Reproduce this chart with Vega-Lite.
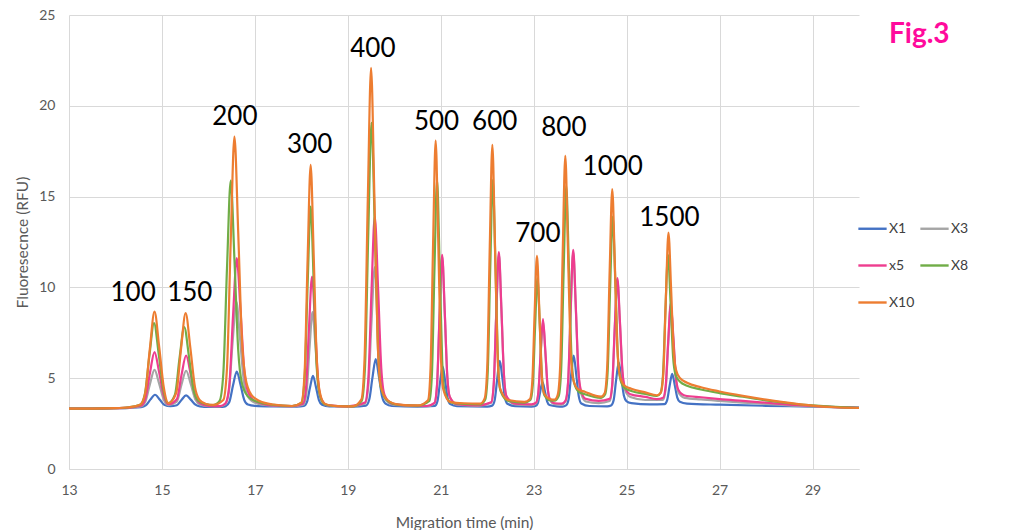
{
  "$schema": "https://vega.github.io/schema/vega-lite/v6.json",
  "autosize": "none",
  "width": 790,
  "height": 454,
  "padding": {"left": 69, "top": 15, "right": 165, "bottom": 61},
  "background": "white",
  "title": {
    "text": "Fig.3",
    "anchor": "start",
    "frame": "group",
    "orient": "top",
    "offset": 0,
    "dx": 820,
    "dy": 63,
    "baseline": "alphabetic",
    "font": "Lato",
    "fontSize": 28,
    "fontWeight": "bold",
    "color": "#ff0a9c"
  },
  "datasets": {
    "curves": [
      {"s":"X1","t":13,"v":3.33},{"s":"X1","t":13.5,"v":3.33},{"s":"X1","t":14,"v":3.35},{"s":"X1","t":14.3,"v":3.37},
      {"s":"X1","t":14.55,"v":3.41},{"s":"X1","t":14.65,"v":3.5},{"s":"X1","t":14.75,"v":3.82},{"s":"X1","t":14.85,"v":4.09},{"s":"X1","t":14.95,"v":3.83},{"s":"X1","t":15.05,"v":3.54},{"s":"X1","t":15.18,"v":3.46},
      {"s":"X1","t":15.32,"v":3.51},{"s":"X1","t":15.42,"v":3.8},{"s":"X1","t":15.52,"v":4.05},{"s":"X1","t":15.62,"v":3.82},{"s":"X1","t":15.72,"v":3.55},{"s":"X1","t":15.82,"v":3.45},{"s":"X1","t":16.0,"v":3.42},{"s":"X1","t":16.3,"v":3.42},
      {"s":"X1","t":16.37,"v":3.46},{"s":"X1","t":16.45,"v":3.69},{"s":"X1","t":16.53,"v":4.61},{"s":"X1","t":16.61,"v":5.37},{"s":"X1","t":16.69,"v":4.65},{"s":"X1","t":16.77,"v":3.81},{"s":"X1","t":16.85,"v":3.55},{"s":"X1","t":17.0,"v":3.48},{"s":"X1","t":17.4,"v":3.45},{"s":"X1","t":17.9,"v":3.44},
      {"s":"X1","t":18.055,"v":3.47},{"s":"X1","t":18.12,"v":3.68},{"s":"X1","t":18.185,"v":4.47},{"s":"X1","t":18.25,"v":5.13},{"s":"X1","t":18.315,"v":4.5},{"s":"X1","t":18.38,"v":3.78},{"s":"X1","t":18.445,"v":3.54},{"s":"X1","t":18.6,"v":3.45},{"s":"X1","t":19.1,"v":3.44},
      {"s":"X1","t":19.39,"v":3.49},{"s":"X1","t":19.46,"v":3.81},{"s":"X1","t":19.53,"v":5.03},{"s":"X1","t":19.6,"v":6.05},{"s":"X1","t":19.67,"v":5.08},{"s":"X1","t":19.74,"v":3.96},{"s":"X1","t":19.81,"v":3.6},{"s":"X1","t":19.95,"v":3.47},{"s":"X1","t":20.5,"v":3.44},
      {"s":"X1","t":20.875,"v":3.48},{"s":"X1","t":20.93,"v":3.75},{"s":"X1","t":20.985,"v":4.79},{"s":"X1","t":21.04,"v":5.65},{"s":"X1","t":21.095,"v":4.83},{"s":"X1","t":21.15,"v":3.88},{"s":"X1","t":21.205,"v":3.57},{"s":"X1","t":21.35,"v":3.46},{"s":"X1","t":22.0,"v":3.44},
      {"s":"X1","t":22.105,"v":3.49},{"s":"X1","t":22.16,"v":3.79},{"s":"X1","t":22.215,"v":4.98},{"s":"X1","t":22.27,"v":5.96},{"s":"X1","t":22.325,"v":5.03},{"s":"X1","t":22.38,"v":3.94},{"s":"X1","t":22.435,"v":3.59},{"s":"X1","t":22.6,"v":3.46},{"s":"X1","t":22.95,"v":3.44},
      {"s":"X1","t":23.04,"v":3.47},{"s":"X1","t":23.09,"v":3.63},{"s":"X1","t":23.14,"v":4.26},{"s":"X1","t":23.19,"v":4.79},{"s":"X1","t":23.24,"v":4.29},{"s":"X1","t":23.29,"v":3.71},{"s":"X1","t":23.34,"v":3.52},{"s":"X1","t":23.5,"v":3.45},{"s":"X1","t":23.62,"v":3.44},
      {"s":"X1","t":23.695,"v":3.5},{"s":"X1","t":23.75,"v":3.83},{"s":"X1","t":23.805,"v":5.15},{"s":"X1","t":23.86,"v":6.25},{"s":"X1","t":23.915,"v":5.21},{"s":"X1","t":23.97,"v":4.0},{"s":"X1","t":24.025,"v":3.61},{"s":"X1","t":24.2,"v":3.47},{"s":"X1","t":24.58,"v":3.45},
      {"s":"X1","t":24.665,"v":3.5},{"s":"X1","t":24.72,"v":3.79},{"s":"X1","t":24.775,"v":4.93},{"s":"X1","t":24.83,"v":5.87},{"s":"X1","t":24.885,"v":5.03},{"s":"X1","t":24.94,"v":4.05},{"s":"X1","t":24.995,"v":3.74},{"s":"X1","t":25.1,"v":3.63},{"s":"X1","t":25.5,"v":3.56},
      {"s":"X1","t":25.815,"v":3.57},{"s":"X1","t":25.87,"v":3.78},{"s":"X1","t":25.925,"v":4.58},{"s":"X1","t":25.98,"v":5.24},{"s":"X1","t":26.035,"v":4.63},{"s":"X1","t":26.09,"v":3.93},{"s":"X1","t":26.145,"v":3.7},{"s":"X1","t":26.3,"v":3.6},{"s":"X1","t":27.0,"v":3.54},{"s":"X1","t":28.0,"v":3.48},{"s":"X1","t":29.0,"v":3.44},{"s":"X1","t":30.0,"v":3.38},

      {"s":"X3","t":13,"v":3.33},{"s":"X3","t":13.5,"v":3.33},{"s":"X3","t":14,"v":3.35},{"s":"X3","t":14.3,"v":3.37},
      {"s":"X3","t":14.54,"v":3.44},{"s":"X3","t":14.64,"v":3.69},{"s":"X3","t":14.74,"v":4.66},{"s":"X3","t":14.84,"v":5.46},{"s":"X3","t":14.94,"v":4.7},{"s":"X3","t":15.04,"v":3.81},{"s":"X3","t":15.14,"v":3.52},
      {"s":"X3","t":15.32,"v":3.71},{"s":"X3","t":15.42,"v":4.64},{"s":"X3","t":15.52,"v":5.41},{"s":"X3","t":15.62,"v":4.68},{"s":"X3","t":15.72,"v":3.83},{"s":"X3","t":15.82,"v":3.55},{"s":"X3","t":16.0,"v":3.46},{"s":"X3","t":16.25,"v":3.45},
      {"s":"X3","t":16.36,"v":3.57},{"s":"X3","t":16.44,"v":4.26},{"s":"X3","t":16.52,"v":6.97},{"s":"X3","t":16.6,"v":9.22},{"s":"X3","t":16.68,"v":7.2},{"s":"X3","t":16.76,"v":4.89},{"s":"X3","t":16.84,"v":4.03},{"s":"X3","t":17.0,"v":3.65},{"s":"X3","t":17.3,"v":3.5},{"s":"X3","t":17.8,"v":3.45},
      {"s":"X3","t":18.045,"v":3.55},{"s":"X3","t":18.11,"v":4.18},{"s":"X3","t":18.175,"v":6.62},{"s":"X3","t":18.24,"v":8.64},{"s":"X3","t":18.305,"v":6.72},{"s":"X3","t":18.37,"v":4.49},{"s":"X3","t":18.435,"v":3.76},{"s":"X3","t":18.56,"v":3.5},{"s":"X3","t":19.0,"v":3.45},
      {"s":"X3","t":19.37,"v":3.6},{"s":"X3","t":19.44,"v":4.52},{"s":"X3","t":19.51,"v":8.13},{"s":"X3","t":19.58,"v":11.12},{"s":"X3","t":19.65,"v":8.28},{"s":"X3","t":19.72,"v":4.98},{"s":"X3","t":19.79,"v":3.91},{"s":"X3","t":19.95,"v":3.55},{"s":"X3","t":20.3,"v":3.48},{"s":"X3","t":20.7,"v":3.46},
      {"s":"X3","t":20.865,"v":3.62},{"s":"X3","t":20.92,"v":4.61},{"s":"X3","t":20.975,"v":8.49},{"s":"X3","t":21.03,"v":11.7},{"s":"X3","t":21.085,"v":8.65},{"s":"X3","t":21.14,"v":5.11},{"s":"X3","t":21.195,"v":3.95},{"s":"X3","t":21.35,"v":3.54},{"s":"X3","t":21.8,"v":3.48},
      {"s":"X3","t":22.085,"v":3.65},{"s":"X3","t":22.14,"v":4.65},{"s":"X3","t":22.195,"v":8.59},{"s":"X3","t":22.25,"v":11.85},{"s":"X3","t":22.305,"v":8.75},{"s":"X3","t":22.36,"v":5.15},{"s":"X3","t":22.415,"v":3.98},{"s":"X3","t":22.6,"v":3.56},{"s":"X3","t":22.95,"v":3.52},
      {"s":"X3","t":23.05,"v":3.61},{"s":"X3","t":23.1,"v":4.17},{"s":"X3","t":23.15,"v":6.34},{"s":"X3","t":23.2,"v":8.15},{"s":"X3","t":23.25,"v":6.44},{"s":"X3","t":23.3,"v":4.45},{"s":"X3","t":23.35,"v":3.8},{"s":"X3","t":23.45,"v":3.57},{"s":"X3","t":23.6,"v":3.55},
      {"s":"X3","t":23.685,"v":3.72},{"s":"X3","t":23.74,"v":4.73},{"s":"X3","t":23.795,"v":8.67},{"s":"X3","t":23.85,"v":11.95},{"s":"X3","t":23.905,"v":8.9},{"s":"X3","t":23.96,"v":5.37},{"s":"X3","t":24.015,"v":4.21},{"s":"X3","t":24.12,"v":3.72},{"s":"X3","t":24.4,"v":3.63},
      {"s":"X3","t":24.635,"v":3.74},{"s":"X3","t":24.69,"v":4.55},{"s":"X3","t":24.745,"v":7.75},{"s":"X3","t":24.8,"v":10.4},{"s":"X3","t":24.855,"v":8.01},{"s":"X3","t":24.91,"v":5.24},{"s":"X3","t":24.965,"v":4.34},{"s":"X3","t":25.08,"v":3.96},{"s":"X3","t":25.4,"v":3.8},
      {"s":"X3","t":25.785,"v":3.81},{"s":"X3","t":25.84,"v":4.44},{"s":"X3","t":25.895,"v":6.93},{"s":"X3","t":25.95,"v":9.0},{"s":"X3","t":26.005,"v":7.12},{"s":"X3","t":26.06,"v":4.94},{"s":"X3","t":26.115,"v":4.22},{"s":"X3","t":26.25,"v":3.92},{"s":"X3","t":26.6,"v":3.83},{"s":"X3","t":27.0,"v":3.75},{"s":"X3","t":27.5,"v":3.66},{"s":"X3","t":28.0,"v":3.58},{"s":"X3","t":28.5,"v":3.5},{"s":"X3","t":29.0,"v":3.45},{"s":"X3","t":29.5,"v":3.4},{"s":"X3","t":30.0,"v":3.37},

      {"s":"x5","t":13,"v":3.33},{"s":"x5","t":13.5,"v":3.33},{"s":"x5","t":14,"v":3.35},{"s":"x5","t":14.3,"v":3.38},
      {"s":"x5","t":14.54,"v":3.48},{"s":"x5","t":14.64,"v":3.84},{"s":"x5","t":14.74,"v":5.26},{"s":"x5","t":14.84,"v":6.44},{"s":"x5","t":14.94,"v":5.32},{"s":"x5","t":15.04,"v":4.02},{"s":"x5","t":15.14,"v":3.57},
      {"s":"x5","t":15.32,"v":3.84},{"s":"x5","t":15.42,"v":5.16},{"s":"x5","t":15.52,"v":6.25},{"s":"x5","t":15.62,"v":5.21},{"s":"x5","t":15.72,"v":4.01},{"s":"x5","t":15.82,"v":3.62},{"s":"x5","t":16.0,"v":3.48},{"s":"x5","t":16.25,"v":3.46},
      {"s":"x5","t":16.37,"v":3.62},{"s":"x5","t":16.45,"v":4.6},{"s":"x5","t":16.53,"v":8.43},{"s":"x5","t":16.61,"v":11.61},{"s":"x5","t":16.69,"v":8.76},{"s":"x5","t":16.77,"v":5.5},{"s":"x5","t":16.85,"v":4.28},{"s":"x5","t":17.0,"v":3.75},{"s":"x5","t":17.3,"v":3.52},{"s":"x5","t":17.8,"v":3.46},
      {"s":"x5","t":18.035,"v":3.59},{"s":"x5","t":18.1,"v":4.45},{"s":"x5","t":18.165,"v":7.81},{"s":"x5","t":18.23,"v":10.6},{"s":"x5","t":18.295,"v":7.95},{"s":"x5","t":18.36,"v":4.88},{"s":"x5","t":18.425,"v":3.88},{"s":"x5","t":18.55,"v":3.52},{"s":"x5","t":19.0,"v":3.45},
      {"s":"x5","t":19.37,"v":3.66},{"s":"x5","t":19.44,"v":4.91},{"s":"x5","t":19.51,"v":9.82},{"s":"x5","t":19.58,"v":13.9},{"s":"x5","t":19.65,"v":10.03},{"s":"x5","t":19.72,"v":5.54},{"s":"x5","t":19.79,"v":4.08},{"s":"x5","t":19.95,"v":3.6},{"s":"x5","t":20.3,"v":3.5},{"s":"x5","t":20.7,"v":3.47},
      {"s":"x5","t":20.865,"v":3.64},{"s":"x5","t":20.92,"v":4.63},{"s":"x5","t":20.975,"v":8.55},{"s":"x5","t":21.03,"v":11.79},{"s":"x5","t":21.085,"v":8.71},{"s":"x5","t":21.14,"v":5.13},{"s":"x5","t":21.195,"v":3.97},{"s":"x5","t":21.35,"v":3.57},{"s":"x5","t":21.8,"v":3.5},
      {"s":"x5","t":22.085,"v":3.67},{"s":"x5","t":22.14,"v":4.68},{"s":"x5","t":22.195,"v":8.65},{"s":"x5","t":22.25,"v":11.94},{"s":"x5","t":22.305,"v":8.82},{"s":"x5","t":22.36,"v":5.19},{"s":"x5","t":22.415,"v":4.01},{"s":"x5","t":22.6,"v":3.6},{"s":"x5","t":22.95,"v":3.56},
      {"s":"x5","t":23.05,"v":3.65},{"s":"x5","t":23.1,"v":4.22},{"s":"x5","t":23.15,"v":6.42},{"s":"x5","t":23.2,"v":8.25},{"s":"x5","t":23.25,"v":6.51},{"s":"x5","t":23.3,"v":4.5},{"s":"x5","t":23.35,"v":3.84},{"s":"x5","t":23.45,"v":3.62},{"s":"x5","t":23.6,"v":3.6},
      {"s":"x5","t":23.685,"v":3.77},{"s":"x5","t":23.74,"v":4.79},{"s":"x5","t":23.795,"v":8.77},{"s":"x5","t":23.85,"v":12.07},{"s":"x5","t":23.905,"v":9.03},{"s":"x5","t":23.96,"v":5.49},{"s":"x5","t":24.015,"v":4.34},{"s":"x5","t":24.12,"v":3.86},{"s":"x5","t":24.4,"v":3.75},
      {"s":"x5","t":24.635,"v":3.86},{"s":"x5","t":24.69,"v":4.67},{"s":"x5","t":24.745,"v":7.86},{"s":"x5","t":24.8,"v":10.51},{"s":"x5","t":24.855,"v":8.14},{"s":"x5","t":24.91,"v":5.38},{"s":"x5","t":24.965,"v":4.48},{"s":"x5","t":25.08,"v":4.12},{"s":"x5","t":25.4,"v":3.97},{"s":"x5","t":25.65,"v":3.85},
      {"s":"x5","t":25.785,"v":3.92},{"s":"x5","t":25.84,"v":4.56},{"s":"x5","t":25.895,"v":7.06},{"s":"x5","t":25.95,"v":9.13},{"s":"x5","t":26.005,"v":7.25},{"s":"x5","t":26.06,"v":5.07},{"s":"x5","t":26.115,"v":4.35},{"s":"x5","t":26.25,"v":4.05},{"s":"x5","t":26.6,"v":3.95},{"s":"x5","t":27.0,"v":3.85},{"s":"x5","t":27.5,"v":3.75},{"s":"x5","t":28.0,"v":3.65},{"s":"x5","t":28.5,"v":3.55},{"s":"x5","t":29.0,"v":3.47},{"s":"x5","t":29.5,"v":3.41},{"s":"x5","t":30.0,"v":3.37},

      {"s":"X8","t":13,"v":3.33},{"s":"X8","t":13.5,"v":3.33},{"s":"X8","t":14,"v":3.35},{"s":"X8","t":14.3,"v":3.4},
      {"s":"X8","t":14.53,"v":3.54},{"s":"X8","t":14.63,"v":4.09},{"s":"X8","t":14.73,"v":6.24},{"s":"X8","t":14.83,"v":8.03},{"s":"X8","t":14.93,"v":6.34},{"s":"X8","t":15.03,"v":4.37},{"s":"X8","t":15.13,"v":3.62},
      {"s":"X8","t":15.28,"v":4.1},{"s":"X8","t":15.38,"v":6.13},{"s":"X8","t":15.48,"v":7.81},{"s":"X8","t":15.58,"v":6.22},{"s":"X8","t":15.68,"v":4.36},{"s":"X8","t":15.78,"v":3.76},{"s":"X8","t":15.95,"v":3.57},{"s":"X8","t":16.1,"v":3.52},
      {"s":"X8","t":16.24,"v":3.75},{"s":"X8","t":16.32,"v":5.23},{"s":"X8","t":16.4,"v":11.05},{"s":"X8","t":16.48,"v":15.88},{"s":"X8","t":16.56,"v":11.55},{"s":"X8","t":16.64,"v":6.6},{"s":"X8","t":16.72,"v":4.74},{"s":"X8","t":16.85,"v":4.0},{"s":"X8","t":17.05,"v":3.7},{"s":"X8","t":17.4,"v":3.53},{"s":"X8","t":17.8,"v":3.47},
      {"s":"X8","t":18.0,"v":3.64},{"s":"X8","t":18.07,"v":4.99},{"s":"X8","t":18.135,"v":10.16},{"s":"X8","t":18.2,"v":14.45},{"s":"X8","t":18.265,"v":10.38},{"s":"X8","t":18.33,"v":5.65},{"s":"X8","t":18.395,"v":4.11},{"s":"X8","t":18.5,"v":3.57},{"s":"X8","t":18.7,"v":3.47},{"s":"X8","t":19.1,"v":3.45},
      {"s":"X8","t":19.3,"v":3.76},{"s":"X8","t":19.37,"v":5.64},{"s":"X8","t":19.44,"v":12.97},{"s":"X8","t":19.51,"v":19.06},{"s":"X8","t":19.58,"v":13.28},{"s":"X8","t":19.65,"v":6.57},{"s":"X8","t":19.72,"v":4.39},{"s":"X8","t":19.86,"v":3.75},{"s":"X8","t":20.1,"v":3.53},{"s":"X8","t":20.5,"v":3.49},
      {"s":"X8","t":20.755,"v":3.75},{"s":"X8","t":20.81,"v":5.24},{"s":"X8","t":20.865,"v":11.08},{"s":"X8","t":20.92,"v":15.92},{"s":"X8","t":20.975,"v":11.32},{"s":"X8","t":21.03,"v":5.98},{"s":"X8","t":21.085,"v":4.25},{"s":"X8","t":21.22,"v":3.66},{"s":"X8","t":21.5,"v":3.58},{"s":"X8","t":21.85,"v":3.56},
      {"s":"X8","t":21.955,"v":3.81},{"s":"X8","t":22.01,"v":5.29},{"s":"X8","t":22.065,"v":11.1},{"s":"X8","t":22.12,"v":15.92},{"s":"X8","t":22.175,"v":11.35},{"s":"X8","t":22.23,"v":6.03},{"s":"X8","t":22.285,"v":4.3},{"s":"X8","t":22.45,"v":3.75},{"s":"X8","t":22.8,"v":3.66},
      {"s":"X8","t":22.93,"v":3.8},{"s":"X8","t":22.98,"v":4.62},{"s":"X8","t":23.03,"v":7.84},{"s":"X8","t":23.08,"v":10.51},{"s":"X8","t":23.13,"v":7.98},{"s":"X8","t":23.18,"v":5.03},{"s":"X8","t":23.23,"v":4.07},{"s":"X8","t":23.36,"v":3.78},{"s":"X8","t":23.45,"v":3.76},
      {"s":"X8","t":23.535,"v":4.0},{"s":"X8","t":23.59,"v":5.42},{"s":"X8","t":23.645,"v":10.98},{"s":"X8","t":23.7,"v":15.59},{"s":"X8","t":23.755,"v":11.34},{"s":"X8","t":23.81,"v":6.4},{"s":"X8","t":23.865,"v":4.79},{"s":"X8","t":23.97,"v":4.25},{"s":"X8","t":24.1,"v":4.12},{"s":"X8","t":24.45,"v":3.92},
      {"s":"X8","t":24.535,"v":4.1},{"s":"X8","t":24.59,"v":5.3},{"s":"X8","t":24.645,"v":10.0},{"s":"X8","t":24.7,"v":13.9},{"s":"X8","t":24.755,"v":10.37},{"s":"X8","t":24.81,"v":6.26},{"s":"X8","t":24.865,"v":4.92},{"s":"X8","t":24.96,"v":4.45},{"s":"X8","t":25.1,"v":4.3},{"s":"X8","t":25.4,"v":4.13},{"s":"X8","t":25.65,"v":4.02},
      {"s":"X8","t":25.725,"v":4.16},{"s":"X8","t":25.78,"v":5.09},{"s":"X8","t":25.835,"v":8.75},{"s":"X8","t":25.89,"v":11.79},{"s":"X8","t":25.945,"v":9.19},{"s":"X8","t":26.0,"v":6.16},{"s":"X8","t":26.055,"v":5.17},{"s":"X8","t":26.15,"v":4.8},{"s":"X8","t":26.3,"v":4.58},{"s":"X8","t":26.6,"v":4.38},{"s":"X8","t":27.0,"v":4.18},{"s":"X8","t":27.5,"v":3.98},{"s":"X8","t":28.0,"v":3.78},{"s":"X8","t":28.5,"v":3.62},{"s":"X8","t":29.0,"v":3.5},{"s":"X8","t":29.5,"v":3.42},{"s":"X8","t":30.0,"v":3.37},

      {"s":"X10","t":13,"v":3.33},{"s":"X10","t":13.5,"v":3.33},{"s":"X10","t":14,"v":3.35},{"s":"X10","t":14.3,"v":3.4},
      {"s":"X10","t":14.54,"v":3.55},{"s":"X10","t":14.64,"v":4.18},{"s":"X10","t":14.74,"v":6.63},{"s":"X10","t":14.84,"v":8.67},{"s":"X10","t":14.94,"v":6.74},{"s":"X10","t":15.04,"v":4.49},{"s":"X10","t":15.14,"v":3.63},
      {"s":"X10","t":15.31,"v":4.21},{"s":"X10","t":15.41,"v":6.6},{"s":"X10","t":15.51,"v":8.58},{"s":"X10","t":15.61,"v":6.7},{"s":"X10","t":15.71,"v":4.52},{"s":"X10","t":15.81,"v":3.8},{"s":"X10","t":15.95,"v":3.58},{"s":"X10","t":16.1,"v":3.53},
      {"s":"X10","t":16.32,"v":3.8},{"s":"X10","t":16.4,"v":5.57},{"s":"X10","t":16.48,"v":12.53},{"s":"X10","t":16.56,"v":18.3},{"s":"X10","t":16.64,"v":13.12},{"s":"X10","t":16.72,"v":7.2},{"s":"X10","t":16.8,"v":4.98},{"s":"X10","t":16.92,"v":4.1},{"s":"X10","t":17.1,"v":3.75},{"s":"X10","t":17.4,"v":3.55},{"s":"X10","t":17.8,"v":3.47},
      {"s":"X10","t":18.0,"v":3.66},{"s":"X10","t":18.07,"v":5.31},{"s":"X10","t":18.135,"v":11.56},{"s":"X10","t":18.2,"v":16.75},{"s":"X10","t":18.265,"v":11.83},{"s":"X10","t":18.33,"v":6.11},{"s":"X10","t":18.395,"v":4.25},{"s":"X10","t":18.5,"v":3.6},{"s":"X10","t":18.7,"v":3.48},{"s":"X10","t":19.1,"v":3.45},
      {"s":"X10","t":19.29,"v":3.82},{"s":"X10","t":19.36,"v":6.06},{"s":"X10","t":19.43,"v":14.82},{"s":"X10","t":19.5,"v":22.09},{"s":"X10","t":19.57,"v":15.19},{"s":"X10","t":19.64,"v":7.18},{"s":"X10","t":19.71,"v":4.57},{"s":"X10","t":19.85,"v":3.8},{"s":"X10","t":20.1,"v":3.55},{"s":"X10","t":20.5,"v":3.5},
      {"s":"X10","t":20.725,"v":3.79},{"s":"X10","t":20.78,"v":5.54},{"s":"X10","t":20.835,"v":12.4},{"s":"X10","t":20.89,"v":18.09},{"s":"X10","t":20.945,"v":12.69},{"s":"X10","t":21.0,"v":6.42},{"s":"X10","t":21.055,"v":4.38},{"s":"X10","t":21.2,"v":3.7},{"s":"X10","t":21.5,"v":3.62},{"s":"X10","t":21.85,"v":3.6},
      {"s":"X10","t":21.945,"v":3.89},{"s":"X10","t":22.0,"v":5.6},{"s":"X10","t":22.055,"v":12.29},{"s":"X10","t":22.11,"v":17.85},{"s":"X10","t":22.165,"v":12.58},{"s":"X10","t":22.22,"v":6.45},{"s":"X10","t":22.275,"v":4.46},{"s":"X10","t":22.45,"v":3.8},{"s":"X10","t":22.8,"v":3.7},
      {"s":"X10","t":22.92,"v":3.86},{"s":"X10","t":22.97,"v":4.83},{"s":"X10","t":23.02,"v":8.6},{"s":"X10","t":23.07,"v":11.74},{"s":"X10","t":23.12,"v":8.77},{"s":"X10","t":23.17,"v":5.31},{"s":"X10","t":23.22,"v":4.18},{"s":"X10","t":23.35,"v":3.85},{"s":"X10","t":23.45,"v":3.82},
      {"s":"X10","t":23.515,"v":4.07},{"s":"X10","t":23.57,"v":5.68},{"s":"X10","t":23.625,"v":12.0},{"s":"X10","t":23.68,"v":17.24},{"s":"X10","t":23.735,"v":12.27},{"s":"X10","t":23.79,"v":6.8},{"s":"X10","t":23.845,"v":4.98},{"s":"X10","t":23.95,"v":4.4},{"s":"X10","t":24.1,"v":4.25},{"s":"X10","t":24.45,"v":3.98},
      {"s":"X10","t":24.525,"v":4.17},{"s":"X10","t":24.58,"v":5.55},{"s":"X10","t":24.635,"v":10.94},{"s":"X10","t":24.69,"v":15.41},{"s":"X10","t":24.745,"v":11.37},{"s":"X10","t":24.8,"v":6.68},{"s":"X10","t":24.855,"v":5.15},{"s":"X10","t":24.95,"v":4.6},{"s":"X10","t":25.1,"v":4.42},{"s":"X10","t":25.4,"v":4.22},{"s":"X10","t":25.65,"v":4.06},
      {"s":"X10","t":25.735,"v":4.21},{"s":"X10","t":25.79,"v":5.29},{"s":"X10","t":25.845,"v":9.51},{"s":"X10","t":25.9,"v":13.02},{"s":"X10","t":25.955,"v":10.03},{"s":"X10","t":26.01,"v":6.56},{"s":"X10","t":26.065,"v":5.43},{"s":"X10","t":26.15,"v":5.0},{"s":"X10","t":26.3,"v":4.75},{"s":"X10","t":26.6,"v":4.5},{"s":"X10","t":27.0,"v":4.27},{"s":"X10","t":27.5,"v":4.03},{"s":"X10","t":28.0,"v":3.82},{"s":"X10","t":28.5,"v":3.64},{"s":"X10","t":29.0,"v":3.49},{"s":"X10","t":29.5,"v":3.4},{"s":"X10","t":30.0,"v":3.36}
    ],
    "labels": [
      {"lbl":"100","t":14.38,"v":9.71},
      {"lbl":"150","t":15.6,"v":9.71},
      {"lbl":"200","t":16.57,"v":19.39},
      {"lbl":"300","t":18.18,"v":17.85},
      {"lbl":"400","t":19.54,"v":23.13},
      {"lbl":"500","t":20.91,"v":19.12},
      {"lbl":"600","t":22.16,"v":19.12},
      {"lbl":"700","t":23.09,"v":12.96},
      {"lbl":"800","t":23.65,"v":18.78},
      {"lbl":"1000","t":24.7,"v":16.64},
      {"lbl":"1500","t":25.92,"v":13.83}
    ]
  },
  "layer": [
    {
      "data": {"name": "curves"},
      "mark": {"type": "line", "interpolate": "monotone", "strokeWidth": 2.2},
      "encoding": {
        "x": {
          "field": "t",
          "type": "quantitative",
          "scale": {"domain": [13, 30], "nice": false, "zero": false},
          "axis": {"values": [13, 15, 17, 19, 21, 23, 25, 27, 29], "title": "Migration time (min)", "labelFlush": false}
        },
        "y": {
          "field": "v",
          "type": "quantitative",
          "scale": {"domain": [0, 25], "nice": false},
          "axis": {"values": [0, 5, 10, 15, 20, 25], "title": "Fluoresecnce  (RFU)", "domain": false, "labelFlush": false}
        },
        "color": {
          "field": "s",
          "type": "nominal",
          "scale": {
            "domain": ["X1", "X3", "x5", "X8", "X10"],
            "range": ["#4472c4", "#a5a5a5", "#ee3d8f", "#70ad47", "#ed7d31"]
          },
          "legend": {
            "title": null,
            "orient": "none",
            "direction": "horizontal",
            "legendX": 788,
            "legendY": 198,
            "columns": 2,
            "symbolType": "stroke",
            "symbolSize": 800,
            "symbolStrokeWidth": 2.4,
            "labelFont": "Lato",
            "labelFontSize": 14,
            "labelColor": "#404040",
            "labelOffset": 1,
            "rowPadding": 14,
            "columnPadding": 0
          }
        }
      }
    },
    {
      "data": {"name": "labels"},
      "mark": {"type": "text", "font": "Lato", "fontSize": 26, "color": "#000000", "align": "center", "baseline": "middle"},
      "encoding": {
        "x": {"field": "t", "type": "quantitative"},
        "y": {"field": "v", "type": "quantitative"},
        "text": {"field": "lbl", "type": "nominal"}
      }
    }
  ],
  "config": {
    "view": {"stroke": null},
    "axis": {
      "grid": true,
      "gridColor": "#d9d9d9",
      "gridWidth": 1,
      "domainColor": "#d9d9d9",
      "domainWidth": 1,
      "ticks": false,
      "labelFont": "Lato",
      "labelFontSize": 14,
      "labelColor": "#595959",
      "titleFont": "Lato",
      "titleFontSize": 15.5,
      "titleFontWeight": "normal",
      "titleColor": "#595959"
    },
    "axisX": {"labelPadding": 14, "titlePadding": 18},
    "axisY": {"labelPadding": 14, "titlePadding": 8}
  }
}
